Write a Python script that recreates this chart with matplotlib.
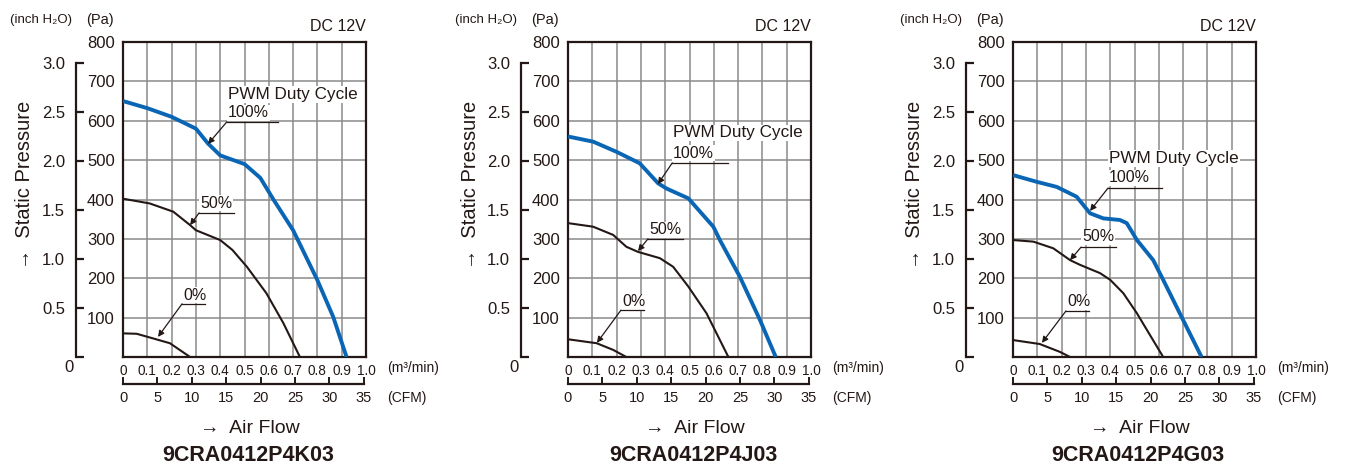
"""P-Q curves for three 9CRA0412P4 fan variants at several PWM duty cycles."""

import matplotlib

matplotlib.use("Agg")
import matplotlib.pyplot as plt

FIG_W, FIG_H = 1345, 465
INK = "#231815"
BLUE = "#0a66b4"
GRID = "#8a8a8a"
PA_PER_INCH = 249.09
CFM_PER_M3 = 35.3147

MODELS = ["9CRA0412P4K03", "9CRA0412P4J03", "9CRA0412P4G03"]

# airflow (m3/min) / static pressure (Pa)
K03_100_X = [0, 0.1, 0.2, 0.3, 0.35, 0.4, 0.5, 0.565, 0.62, 0.7, 0.8, 0.865, 0.92]
K03_100_Y = [650, 632, 610, 580, 542, 512, 490, 455, 399, 322, 195, 102, 0]
K03_50_X = [0, 0.11, 0.207, 0.276, 0.30, 0.40, 0.45, 0.51, 0.59, 0.66, 0.728]
K03_50_Y = [402, 390, 369, 335, 322, 297, 272, 229, 162, 86, 0]
K03_0_X = [0, 0.056, 0.125, 0.193, 0.276]
K03_0_Y = [60, 59, 47, 35, 0]

J03_100_X = [0, 0.103, 0.20, 0.295, 0.371, 0.405, 0.495, 0.598, 0.625, 0.707, 0.79, 0.855]
J03_100_Y = [560, 547, 521, 492, 441, 428, 403, 331, 297, 204, 94, 0]
J03_50_X = [0, 0.103, 0.186, 0.24, 0.288, 0.378, 0.433, 0.495, 0.57, 0.66]
J03_50_Y = [340, 331, 310, 280, 267, 251, 229, 179, 111, 0]
J03_0_X = [0, 0.118, 0.186, 0.24]
J03_0_Y = [45, 35, 18, 0]

G03_100_X = [0, 0.097, 0.18, 0.262, 0.317, 0.372, 0.44, 0.468, 0.51, 0.577, 0.618, 0.70, 0.776]
G03_100_Y = [462, 445, 432, 407, 365, 352, 348, 340, 297, 246, 196, 94, 0]
G03_50_X = [0, 0.084, 0.166, 0.235, 0.276, 0.358, 0.40, 0.454, 0.51, 0.618]
G03_50_Y = [297, 293, 276, 246, 234, 213, 196, 162, 111, 0]
G03_0_X = [0, 0.11, 0.193, 0.235]
G03_0_Y = [43, 33, 13, 0]

CURVES = [
    [(K03_100_X, K03_100_Y), (K03_50_X, K03_50_Y), (K03_0_X, K03_0_Y)],
    [(J03_100_X, J03_100_Y), (J03_50_X, J03_50_Y), (J03_0_X, J03_0_Y)],
    [(G03_100_X, G03_100_Y), (G03_50_X, G03_50_Y), (G03_0_X, G03_0_Y)],
]

# label placement per panel: (text x, text y, underline y, underline x end, arrow tip x, tip y)
LABELS_100 = [
    (0.431, 620, 597, 0.638, 0.350, 541),
    (0.433, 518, 493, 0.658, 0.370, 439),
    (0.395, 455, 429, 0.613, 0.317, 371),
]
PWM_TEXT_Y = [667, 569, 505]
LABELS_50 = [
    (0.317, 391, 366, 0.457, 0.276, 335),
    (0.333, 323, 300, 0.473, 0.288, 269),
    (0.284, 305, 279, 0.424, 0.235, 246),
]
LABELS_0 = [
    (0.247, 157, 135, 0.337, 0.144, 51),
    (0.222, 140, 119, 0.313, 0.119, 36),
    (0.222, 140, 117, 0.313, 0.119, 36),
]

PA_TICKS = [100, 200, 300, 400, 500, 600, 700, 800]
INCH_TICKS = [0.5, 1.0, 1.5, 2.0, 2.5, 3.0]
M3_TICKS = [0, 0.1, 0.2, 0.3, 0.4, 0.5, 0.6, 0.7, 0.8, 0.9, 1.0]
CFM_TICKS = [0, 5, 10, 15, 20, 25, 30, 35]

PANEL_LEFTS = [123, 568, 1013]
AX_TOP, AX_BOTTOM, AX_WIDTH = 42, 357, 243

SANS = ["Liberation Sans", "DejaVu Sans"]

plt.rcParams["font.family"] = SANS
plt.rcParams["text.color"] = INK

BOX = dict(facecolor="white", edgecolor="none", pad=0.6)


def fx(px):
    return px / FIG_W


def fy(py):
    return 1 - py / FIG_H


def _label(ax, spec, text):
    tx, ty, uy, ux_end, tipx, tipy = spec
    ax.text(tx, ty, text, fontsize=11.5, ha="left", va="center", bbox=BOX, zorder=4)
    ux0 = tx - 0.004
    ax.plot([ux0, ux_end], [uy, uy], color=INK, lw=0.9, zorder=5, clip_on=False)
    ax.annotate(
        "",
        xy=(tipx, tipy),
        xytext=(ux0, uy),
        arrowprops=dict(arrowstyle="-|>", color=INK, lw=0.9, mutation_scale=9, shrinkA=0, shrinkB=0),
        zorder=5,
    )


fig = plt.figure(figsize=(FIG_W / 100, FIG_H / 100), dpi=100)

for idx, left in enumerate(PANEL_LEFTS):
    ax = fig.add_axes([fx(left), fy(AX_BOTTOM), AX_WIDTH / FIG_W, (AX_BOTTOM - AX_TOP) / FIG_H])
    ax.set_xlim(0, 1.0)
    ax.set_ylim(0, 800)

    ax.set_xticks(M3_TICKS)
    ax.set_xticklabels(["0" if t == 0 else f"{t:.1f}" for t in M3_TICKS], fontsize=9.8)
    ax.set_yticks(PA_TICKS)
    ax.set_yticklabels([str(t) for t in PA_TICKS], fontsize=12)
    ax.tick_params(axis="both", length=0, colors=INK)
    ax.tick_params(axis="x", pad=5)
    ax.tick_params(axis="y", pad=6)
    ax.grid(True, color=GRID, lw=1.1)
    ax.set_axisbelow(True)
    for spine in ax.spines.values():
        spine.set_linewidth(1.6)
        spine.set_color(INK)

    # inch H2O axis
    sec_y = ax.secondary_yaxis(-47 / AX_WIDTH, functions=(lambda p: p / PA_PER_INCH, lambda i: i * PA_PER_INCH))
    sec_y.set_yticks([0] + INCH_TICKS)
    sec_y.set_yticklabels([""] + [f"{t:.1f}" for t in INCH_TICKS], fontsize=12)
    sec_y.spines["left"].set_bounds(0, 3.0)
    sec_y.spines["left"].set_linewidth(1.6)
    sec_y.spines["left"].set_color(INK)
    sec_y.tick_params(direction="in", length=6, width=1.6, colors=INK, pad=8)

    # CFM axis
    sec_x = ax.secondary_xaxis(-27 / (AX_BOTTOM - AX_TOP), functions=(lambda m: m * CFM_PER_M3, lambda c: c / CFM_PER_M3))
    sec_x.set_xticks(CFM_TICKS)
    sec_x.set_xticklabels([str(t) for t in CFM_TICKS], fontsize=10.5)
    sec_x.spines["bottom"].set_bounds(0, 35)
    sec_x.spines["bottom"].set_linewidth(1.6)
    sec_x.spines["bottom"].set_color(INK)
    sec_x.tick_params(direction="in", length=5, width=1.4, colors=INK, pad=5)

    (x100, y100), (x50, y50), (x0, y0) = CURVES[idx]
    ax.plot(x100, y100, color=BLUE, lw=2.8, solid_capstyle="butt", zorder=3)
    ax.plot(x50, y50, color=INK, lw=1.5, zorder=3)
    ax.plot(x0, y0, color=INK, lw=1.5, zorder=3)

    spec = LABELS_100[idx]
    ax.text(spec[0], PWM_TEXT_Y[idx], "PWM Duty Cycle", fontsize=12.3, ha="left", va="center", bbox=BOX, zorder=4)
    _label(ax, spec, "100%")
    _label(ax, LABELS_50[idx], "50%")
    _label(ax, LABELS_0[idx], "0%")

    ax.text(1.0, 1.025, "DC 12V", transform=ax.transAxes, ha="right", va="bottom", fontsize=11.5)

    fig.text(fx(left - 113), fy(20), "(inch H₂O)", fontsize=9.5, ha="left", va="center")
    fig.text(fx(left - 37), fy(20), "(Pa)", fontsize=10.5, ha="left", va="center")
    fig.text(fx(left - 54), fy(367), "0", fontsize=12, ha="center", va="center")
    fig.text(fx(left - 98), fy(185), "→  Static Pressure", fontsize=14.5, rotation=90, ha="center", va="center")
    fig.text(fx(left + 264), fy(368), "(m³/min)", fontsize=10, ha="left", va="center")
    fig.text(fx(left + 264), fy(398), "(CFM)", fontsize=10, ha="left", va="center")
    fig.text(fx(left + 127), fy(428), "→  Air Flow", fontsize=14, ha="center", va="center")
    fig.text(fx(left + 125), fy(455), MODELS[idx], fontsize=15.5, weight="bold", ha="center", va="center")

fig.savefig("out.png", dpi=100, facecolor="white")
